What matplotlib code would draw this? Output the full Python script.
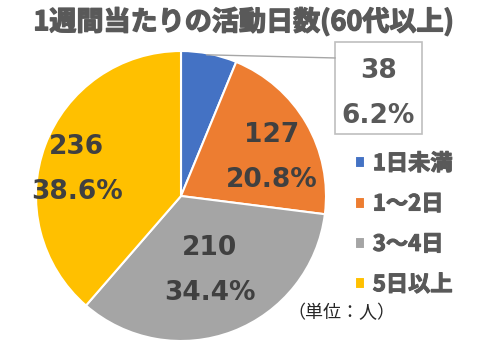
import numpy as np
import matplotlib.pyplot as plt
import matplotlib.patheffects as pe
from matplotlib.patches import Rectangle

plt.rcParams['font.family'] = ['Noto Sans CJK JP', 'DejaVu Sans']

# 活動日数の区分と人数
categories = ['1日未満', '1～2日', '3～4日', '5日以上']
counts = [38, 127, 210, 236]
percents = [6.2, 20.8, 34.4, 38.6]
colors = ['#4472C4', '#ED7D31', '#A5A5A5', '#FFC000']

num_font = ['DejaVu Sans', 'Noto Sans CJK JP']
# CJKの太字が細いので縁取りで太らせる
def heavy(c, w=0.9):
    return [pe.withStroke(linewidth=w, foreground=c)]

fig = plt.figure(figsize=(5.0, 3.47), dpi=100)
ax = fig.add_axes([0.072, 0.0173, 0.58, 0.8357])

wedges, _ = ax.pie(counts, colors=colors, startangle=90, counterclock=False,
                   radius=1.0, wedgeprops=dict(edgecolor='white', linewidth=1.5))
ax.set_xlim(-1, 1)
ax.set_ylim(-1, 1)
ax.axis('off')

# ラベル位置（扇形の中心角からの距離）
label_r = [None, 0.68, 0.55, 0.74]
shift = [0, -7.5, 0, 6.4]
for i, w in enumerate(wedges):
    txt = '%d\n%.1f%%' % (counts[i], percents[i])
    if i == 0:
        # 小さい扇形は外に吹き出し
        bx0, bx1, by0, by1 = 1.062, 1.662, 0.428, 1.062
        ax.add_patch(Rectangle((bx0, by0), bx1 - bx0, by1 - by0, fc='white',
                               ec='#BFBFBF', lw=1.2, clip_on=False))
        th = np.deg2rad(w.theta2 - 10.4)
        ax.plot([0.99 * np.cos(th), bx0], [0.99 * np.sin(th), 0.952],
                color='#A6A6A6', lw=1.0, clip_on=False)
        ax.text((bx0 + bx1) / 2, (by0 + by1) / 2 - 0.035, txt, ha='center',
                va='center', fontsize=19, fontweight='bold', color='#595959',
                family=num_font, linespacing=1.95)
        continue
    mid = np.deg2rad((w.theta1 + w.theta2) / 2 + shift[i])
    ax.text(label_r[i] * np.cos(mid), label_r[i] * np.sin(mid), txt,
            ha='center', va='center', fontsize=19, fontweight='bold',
            color='#404040', family=num_font, linespacing=1.95)

fig.text(0.488, 0.937, '1週間当たりの活動日数(60代以上)', ha='center', va='center',
         fontsize=19.5, fontweight='bold', color='#595959',
         path_effects=heavy('#595959', 1.0))

# 凡例
leg = fig.legend(wedges, categories, loc='center left',
                 bbox_to_anchor=(0.67, 0.354), frameon=False,
                 fontsize=16, labelcolor='#595959', handlelength=0.45,
                 handleheight=0.45, handletextpad=0.35, labelspacing=0.78)
for t in leg.get_texts():
    t.set_fontweight('bold')
    t.set_path_effects(heavy('#595959', 0.8))

fig.text(0.575, 0.097, '（単位：人）', ha='left', va='center',
         fontsize=13, color='#262626')

fig.savefig('out.png', dpi=100)
